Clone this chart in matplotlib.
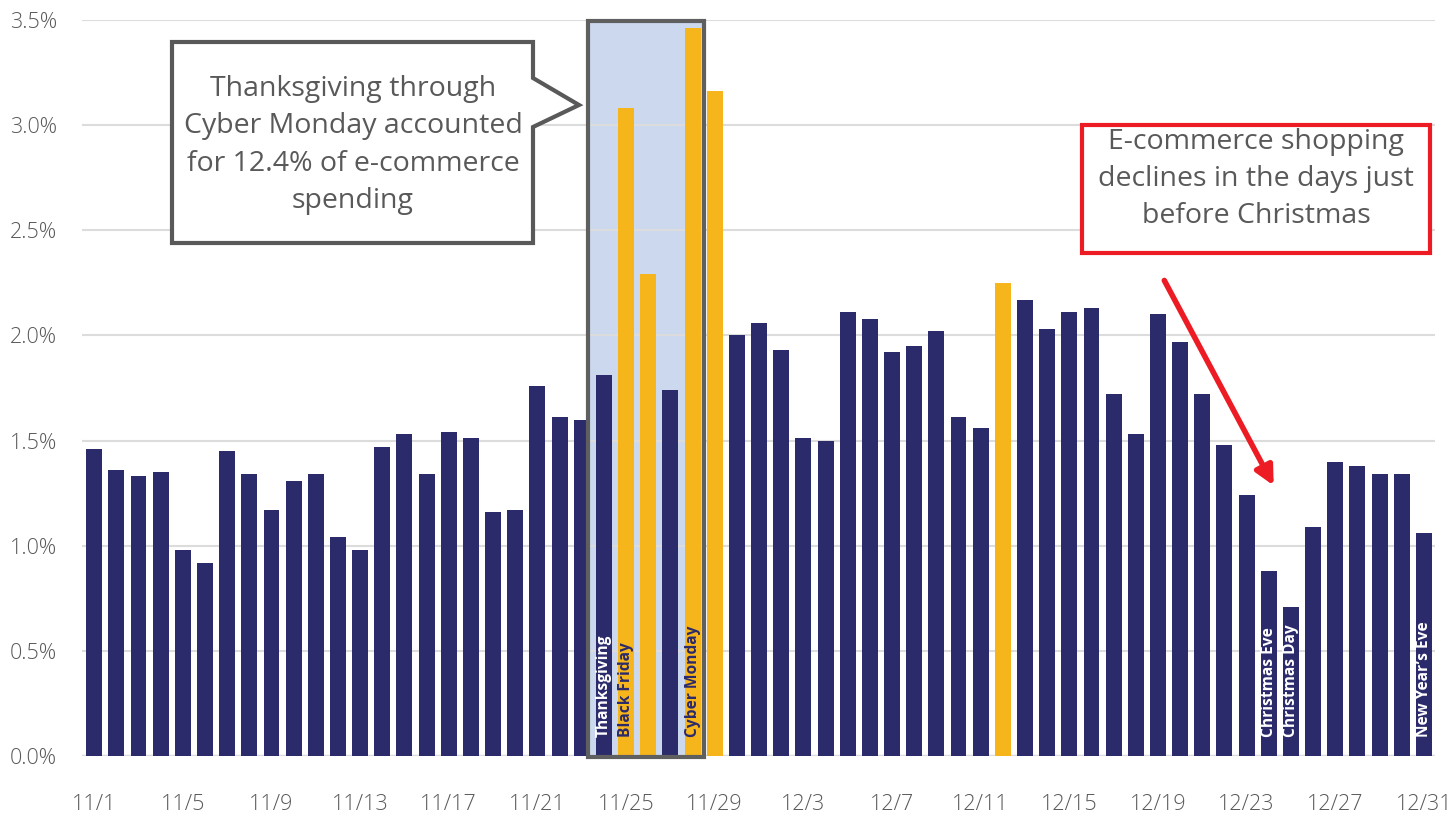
import matplotlib
matplotlib.use("Agg")
import matplotlib.pyplot as plt
from matplotlib.patches import Polygon, Rectangle, FancyArrowPatch

plt.rcParams['font.family'] = ['Open Sans', 'DejaVu Sans']

# ---------------- data ----------------
dates = (["11/%d" % d for d in range(1, 31)] + ["12/%d" % d for d in range(1, 32)])
values = [1.46, 1.36, 1.33, 1.35, 0.98, 0.92, 1.45, 1.34, 1.17, 1.31,
          1.34, 1.04, 0.98, 1.47, 1.53, 1.34, 1.54, 1.51, 1.16, 1.17,
          1.76, 1.61, 1.60, 1.81, 3.08, 2.29, 1.74, 3.46, 3.16, 2.00,
          2.06, 1.93, 1.51, 1.50, 2.11, 2.08, 1.92, 1.95, 2.02, 1.61,
          1.56, 2.25, 2.17, 2.03, 2.11, 2.13, 1.72, 1.53, 2.10, 1.97,
          1.72, 1.48, 1.24, 0.88, 0.71, 1.09, 1.40, 1.38, 1.34, 1.34,
          1.06]
highlight_days = ["11/25", "11/26", "11/28", "11/29", "12/12"]
day_labels = {"11/24": "Thanksgiving", "11/25": "Black Friday",
              "11/28": "Cyber Monday", "12/24": "Christmas Eve",
              "12/25": "Christmas Day", "12/31": "New Year\u2019s Eve"}
xtick_labels = ["11/1", "11/5", "11/9", "11/13", "11/17", "11/21", "11/25",
                "11/29", "12/3", "12/7", "12/11", "12/15", "12/19", "12/23",
                "12/27", "12/31"]
ytick_values = [0.0, 0.5, 1.0, 1.5, 2.0, 2.5, 3.0, 3.5]
ytick_labels = ["0.0%", "0.5%", "1.0%", "1.5%", "2.0%", "2.5%", "3.0%", "3.5%"]
box_start, box_end = "11/24", "11/28"
callout_left = "Thanksgiving through\nCyber Monday accounted\nfor 12.4% of e-commerce\nspending"
callout_right = "E-commerce shopping\ndeclines in the days just\nbefore Christmas"

NAVY = "#2B2A6B"
YELLOW = "#F5B51B"
GREY_TXT = "#595959"
GRID = "#DCDCDC"
RED = "#ED1C24"

W, H = 1451, 817
fig = plt.figure(figsize=(W / 100, H / 100), dpi=100)
ax = fig.add_axes([82 / W, 1 - 756 / H, (1435 - 82) / W, (756 - 20) / H])

def P(x, y):
    return (x / W, 1 - y / H)

x = list(range(len(dates)))
colors = [YELLOW if d in highlight_days else NAVY for d in dates]

# highlight box (fill behind bars)
i0 = dates.index(box_start)
i1 = dates.index(box_end)
ax.add_patch(Rectangle((i0 - 0.72, 0), (i1 - i0) + 1.23, 3.495,
                       facecolor="#CBD8EE", edgecolor="none", zorder=0.5))

ax.bar(x, values, width=0.72, color=colors, zorder=2)

ax.add_patch(Rectangle((i0 - 0.72, -0.005), (i1 - i0) + 1.23, 3.50,
                       facecolor="none", edgecolor="#5F5F5F", linewidth=3,
                       zorder=3, clip_on=False))

# bar labels
for d, lab in day_labels.items():
    i = dates.index(d)
    col = NAVY if d in highlight_days else "white"
    ax.text(i, 0.09, lab, rotation=90, ha="center", va="bottom",
            fontsize=11.2, fontweight="bold", color=col, zorder=4)

ax.set_xlim(-0.55, len(dates) - 0.5)
ax.set_ylim(0, 3.5)
ax.set_xticks([dates.index(t) for t in xtick_labels])
ax.set_xticklabels(xtick_labels)
ax.set_yticks(ytick_values)
ax.set_yticklabels(ytick_labels)
ax.tick_params(axis="both", length=0, labelsize=15.5, labelcolor=GREY_TXT)
for lab in ax.get_xticklabels() + ax.get_yticklabels():
    lab.set_fontweight(300)
ax.tick_params(axis="x", pad=27)
ax.tick_params(axis="y", pad=18)
for s in ax.spines.values():
    s.set_visible(False)
ax.yaxis.grid(True, color=GRID, linewidth=1.5, zorder=0)
ax.set_axisbelow(True)
ax.axhline(0, color=GRID, linewidth=2.5, zorder=1)

# left callout
poly = Polygon([P(172, 42), P(533, 42), P(533, 78), P(579, 105), P(533, 127),
                P(533, 243), P(172, 243)], closed=True, transform=fig.transFigure,
               facecolor="white", edgecolor="#595959", linewidth=3,
               joinstyle="miter", zorder=5)
fig.add_artist(poly)
fig.text(*P(353, 145), callout_left, ha="center", va="center", fontsize=20.5,
         color=GREY_TXT, linespacing=1.45, zorder=6)

# right callout
fig.add_artist(Rectangle(P(1082, 253), 348 / W, 128 / H, transform=fig.transFigure,
                         facecolor="white", edgecolor=RED, linewidth=3, zorder=5))
fig.text(*P(1256, 179), callout_right, ha="center", va="center", fontsize=20.5,
         color=GREY_TXT, linespacing=1.45, zorder=6)
fig.add_artist(FancyArrowPatch(P(1163, 278), P(1275, 488), transform=fig.transFigure,
                               arrowstyle="-|>", mutation_scale=28, linewidth=4,
                               color=RED, zorder=6))

fig.savefig("out.png", dpi=100)
